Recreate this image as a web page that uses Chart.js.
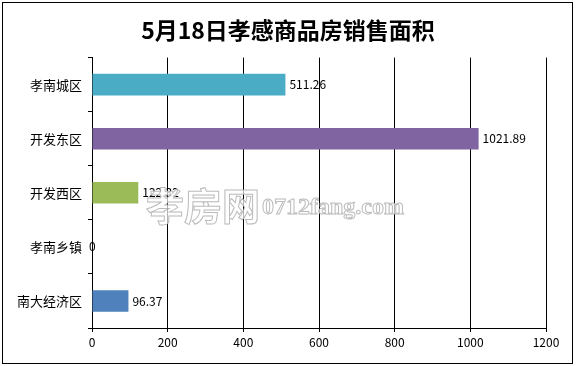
<!DOCTYPE html>
<html lang="zh">
<head>
    <meta charset="UTF-8">
    <title>5月18日孝感商品房销售面积</title>
    <script src="https://cdn.jsdelivr.net/npm/chart.js"></script>
    <style>
        body { margin: 0; background: #fff; }
    </style>
</head>
<body>
    <canvas id="areaChart" width="576" height="366"></canvas>

    <script>
        // Data
        const districts = ['孝南城区', '开发东区', '开发西区', '孝南乡镇', '南大经济区'];
        const areas = [511.26, 1021.89, 122.32, 0, 96.37];
        const barColors = ['#4bacc6', '#8064a2', '#9bbb59', '#4f81bd', '#4f81bd'];
        const xTicks = [0, 200, 400, 600, 800, 1000, 1200];

        const fontCJK = '"Noto Sans CJK SC", "Noto Sans", sans-serif';

        // frame, value labels and the site watermark
        const extras = {
            id: 'extras',
            beforeDraw(chart) {
                const ctx = chart.ctx;
                ctx.save();
                ctx.fillStyle = '#fff';
                ctx.fillRect(0, 0, chart.width, chart.height);
                ctx.strokeStyle = '#000';
                ctx.lineWidth = 1;
                ctx.strokeRect(2.5, 2.5, 570, 361);
                ctx.restore();
            },
            afterDatasetsDraw(chart) {
                const ctx = chart.ctx;
                const meta = chart.getDatasetMeta(0);
                ctx.save();
                ctx.font = '12px ' + fontCJK;
                ctx.fillStyle = '#000';
                ctx.textBaseline = 'middle';
                meta.data.forEach((bar, i) => {
                    // the zero label sits right on the axis in the original
                    const dx = areas[i] === 0 ? -3 : 4;
                    ctx.fillText(String(areas[i]), bar.x + dx, bar.y);
                });
                ctx.restore();
            },
            afterDraw(chart) {
                const ctx = chart.ctx;
                ctx.save();
                ctx.textBaseline = 'alphabetic';
                ctx.lineWidth = 1;
                ctx.strokeStyle = 'rgba(175,175,175,0.85)';
                ctx.fillStyle = 'rgba(255,255,255,0.7)';
                ctx.font = 'bold 38px ' + fontCJK;
                ctx.fillText('孝房网', 146, 220);
                ctx.strokeText('孝房网', 146, 220);
                ctx.font = 'bold 24px "Liberation Serif", serif';
                ctx.fillText('0712fang.com', 262, 214);
                ctx.strokeText('0712fang.com', 262, 214);
                ctx.restore();
            }
        };

        new Chart(document.getElementById('areaChart'), {
            type: 'bar',
            data: {
                labels: districts,
                datasets: [{
                    data: areas,
                    backgroundColor: barColors,
                    barPercentage: 0.4,
                    categoryPercentage: 1
                }]
            },
            plugins: [extras],
            options: {
                indexAxis: 'y',
                responsive: false,
                animation: false,
                layout: { padding: 0 },
                plugins: {
                    legend: { display: false },
                    tooltip: { enabled: false },
                    title: {
                        display: true,
                        text: '5月18日孝感商品房销售面积',
                        color: '#000',
                        font: { family: fontCJK, size: 23, weight: 'bold' },
                        padding: { top: 16, bottom: 14 }
                    }
                },
                scales: {
                    x: {
                        min: 0,
                        max: 1200,
                        afterBuildTicks(scale) {
                            scale.ticks = xTicks.map(v => ({ value: v }));
                        },
                        afterFit(scale) {
                            scale.height = 38;
                            scale.paddingRight = 30;
                        },
                        grid: {
                            color: '#000',
                            lineWidth: 1,
                            drawTicks: true,
                            tickLength: 4
                        },
                        border: { color: '#000', width: 1 },
                        ticks: {
                            color: '#000',
                            padding: 3,
                            font: { family: fontCJK, size: 12 },
                            callback: v => String(v)
                        }
                    },
                    y: {
                        afterFit(scale) { scale.width = 92; },
                        grid: {
                            color: '#000',
                            drawOnChartArea: false,
                            drawTicks: true,
                            tickLength: 4
                        },
                        border: { color: '#000', width: 1 },
                        ticks: {
                            color: '#000',
                            padding: 6,
                            font: { family: fontCJK, size: 13 }
                        }
                    }
                }
            }
        });
    </script>
</body>
</html>
